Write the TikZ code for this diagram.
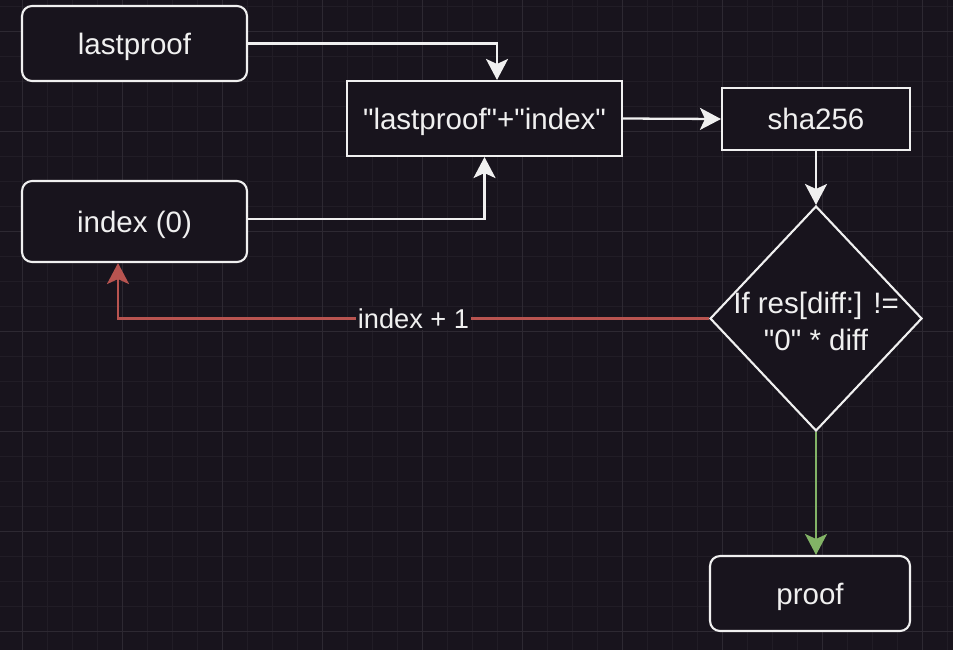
\documentclass[tikz,border=0pt]{standalone}
\usepackage{fontspec}
\setmainfont{Liberation Sans}
\usetikzlibrary{arrows.meta,shapes.geometric}
\definecolor{canvas}{HTML}{18141D}
\definecolor{gridminor}{HTML}{211D26}
\definecolor{gridmajor}{HTML}{2D2932}
\definecolor{edge}{HTML}{F0F0F0}
\definecolor{noedge}{HTML}{B85450}
\definecolor{yesedge}{HTML}{82B366}

\begin{document}
\begin{tikzpicture}[%
      x=0.02cm, y=-0.02cm,
      block/.style={rectangle, draw=edge, line width=1.2pt, fill=canvas, text=edge, rounded corners=0.2cm, minimum width=4.5cm, minimum height=1.5cm, inner sep=0pt, text height=12pt, text depth=0pt, font=\fontsize{16.8}{21}\selectfont},
      plainbox/.style={block, rounded corners=0pt},
      decision/.style={diamond, draw=edge, line width=1.2pt, fill=canvas, minimum width=4.24cm, minimum height=4.5cm, inner sep=0pt},
      textonly/.style={text=edge, align=center, inner sep=0pt, font=\fontsize{16.8}{21}\selectfont},
      line/.style={draw=edge, line width=1.3pt, -{Stealth[length=0.42cm, width=0.44cm, inset=0.1cm]}},
      noline/.style={line, draw=noedge},
      yesline/.style={line, draw=yesedge},
      edgelabel/.style={fill=canvas, text=edge, inner sep=1pt, font=\fontsize{15.5}{18}\selectfont},
      minorgrid/.style={draw=gridminor, line width=0.45pt},
      majorgrid/.style={draw=gridmajor, line width=0.45pt}
      ]
    \fill [canvas] (0, 0) rectangle (953, 650);
    \useasboundingbox (0, 0) rectangle (953, 650);
    \foreach \gx in {22, 47, ..., 947} \path [minorgrid] (\gx, 0) -- (\gx, 650);
    \foreach \gy in {6, 31, ..., 631} \path [minorgrid] (0, \gy) -- (953, \gy);
    \foreach \gx in {22, 122, ..., 922} \path [majorgrid] (\gx, 0) -- (\gx, 650);
    \foreach \gy in {31, 131, ..., 631} \path [majorgrid] (0, \gy) -- (953, \gy);

    \node [block] (lp) at (134.5, 43.5) {lastproof};
    \node [block, minimum height=1.62cm] (idx) at (134.5, 221.5) {index (0)};

    \node [plainbox, minimum width=5.5cm] (cat) at (484.5, 118.5) {\textquotedbl lastproof\textquotedbl+\textquotedbl index\textquotedbl};
    \node [plainbox, minimum width=3.76cm, minimum height=1.24cm] (sha) at (816, 119) {sha256};

    \path [line] (lp.east) -| ([xshift=0.25cm]cat.north);
    \path [line] ([yshift=0.05cm]idx.east) -| (cat.south);
    \path [line] (cat.east) -- (sha.west);

    \node [decision] (dec) at (816, 318.5) {};
    \node [textonly] (dectxt) at ([yshift=-0.05cm]dec.center) {If res[diff:] !=\\\textquotedbl 0\textquotedbl{} * diff};
    \path [line] (sha.south) -- (dec.north);

    \node [block, minimum width=4cm] (proof) at (810, 593.5) {proof};

    \path [noline] (dec.west) -| node [edgelabel, pos=0.25] (incr) {index + 1} ([xshift=-0.33cm]idx.south);
    \path [yesline] (dec.south) -- (dec.south |- proof.north);
  \end{tikzpicture}
\end{document}
